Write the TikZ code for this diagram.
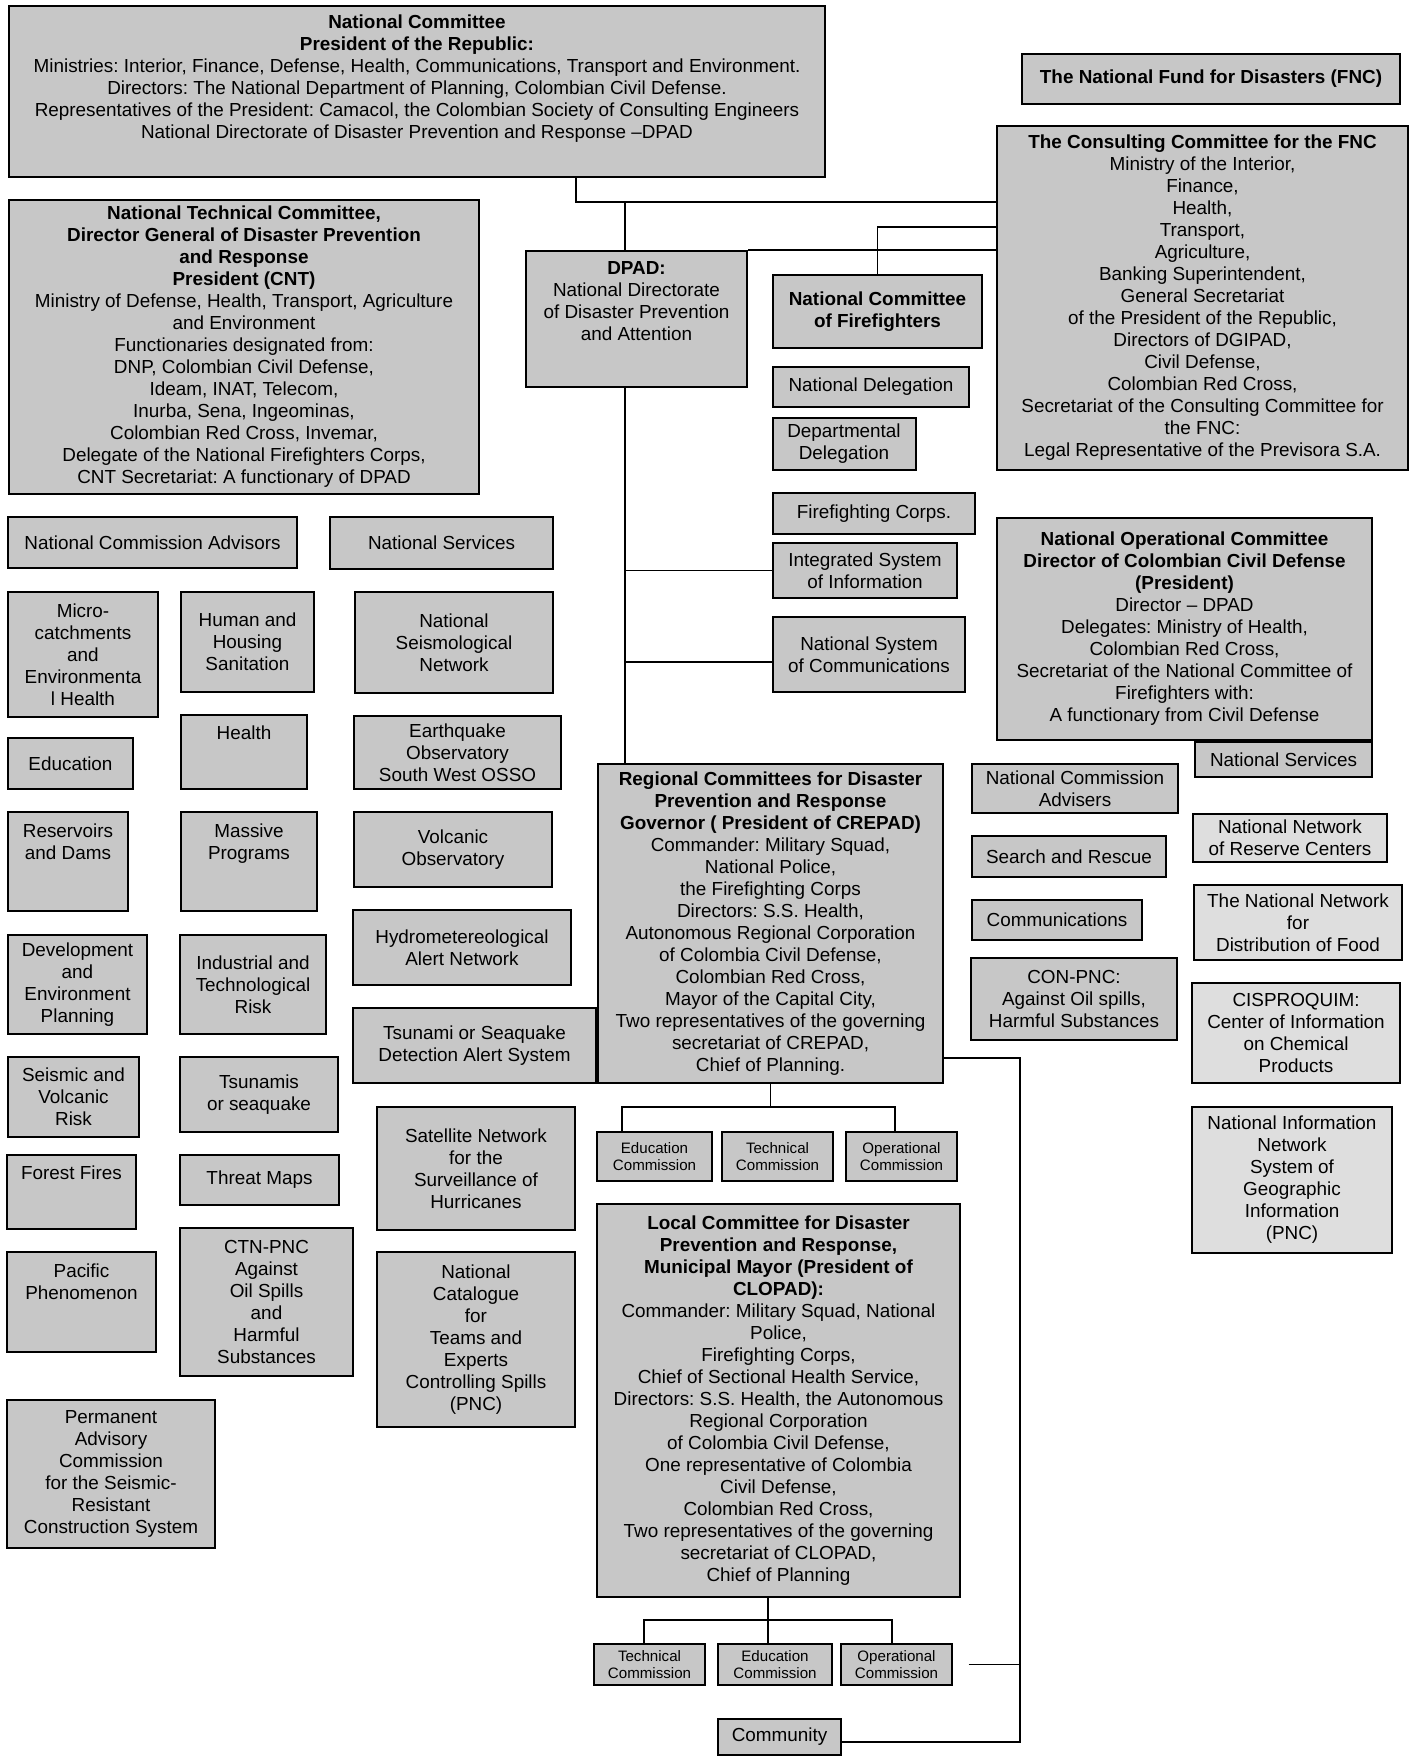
\documentclass[tikz,border=0pt]{standalone}
\usepackage{fontspec}
\setmainfont{Liberation Sans}
\frenchspacing

\newdimen\unitpx
\unitpx=0.45pt

\begin{document}
\begin{tikzpicture}[x=0.45pt, y=-0.45pt, font=\fontsize{8.5}{9.9}\selectfont,
    box/.style={rectangle, draw=black, line width=0.9pt, fill=black!22, align=center, inner sep=1pt},
    pale/.style={box, fill=black!13},
    small/.style={font=\fontsize{6.8}{7.6}\selectfont},
    toptext/.style={align=center, inner sep=0pt, anchor=north},
    link/.style={line width=0.8pt}
]
\useasboundingbox (0,0) rectangle (1423,1756);

% National level (top)
\node[box, minimum width=816\unitpx, minimum height=171\unitpx] (natcom) at (417,91.5) {};
\node[toptext] (natcomtxt) at (417,14) {\textbf{National Committee}\\ \textbf{President of the Republic:}\\
    Ministries: Interior, Finance, Defense, Health, Communications, Transport and Environment.\\
    Directors: The National Department of Planning, Colombian Civil Defense.\\
    Representatives of the President: Camacol, the Colombian Society of Consulting Engineers\\
    National Directorate of Disaster Prevention and Response –DPAD};
\node[box, minimum width=378\unitpx, minimum height=50\unitpx] (fund) at (1211,79) {\textbf{The National Fund for Disasters (FNC)}};
\node[box, minimum width=411\unitpx, minimum height=344\unitpx] (consult) at (1202.5,298) {\textbf{The Consulting Committee for the FNC}\\
    Ministry of the Interior,\\ Finance,\\ Health,\\ Transport,\\ Agriculture,\\ Banking Superintendent,\\
    General Secretariat\\ of the President of the Republic,\\ Directors of DGIPAD,\\ Civil Defense,\\
    Colombian Red Cross,\\ Secretariat of the Consulting Committee for\\ the FNC:\\
    Legal Representative of the Previsora S.A.};
\node[box, minimum width=470\unitpx, minimum height=294\unitpx] (cnt) at (244,347) {\textbf{National Technical Committee,}\\
    \textbf{Director General of Disaster Prevention}\\ \textbf{and Response}\\ \textbf{President (CNT)}\\
    Ministry of Defense, Health, Transport, Agriculture\\ and Environment\\ Functionaries designated from:\\
    DNP, Colombian Civil Defense,\\ Ideam, INAT, Telecom,\\ Inurba, Sena, Ingeominas,\\
    Colombian Red Cross, Invemar,\\ Delegate of the National Firefighters Corps,\\
    CNT Secretariat: A functionary of DPAD};

% DPAD and its branches
\node[box, minimum width=221\unitpx, minimum height=136\unitpx] (dpad) at (636.5,319) {};
\node[toptext] (dpadtxt) at (636.5,261) {\textbf{DPAD:}\\ National Directorate\\ of Disaster Prevention\\ and Attention};
\node[box, minimum width=209\unitpx, minimum height=73\unitpx] (fire) at (877.5,311.5) {\textbf{National Committee}\\ \textbf{of Firefighters}};
\node[box, minimum width=196\unitpx, minimum height=40\unitpx] (natdel) at (871,387) {National Delegation};
\node[box, minimum width=143\unitpx, minimum height=52\unitpx] (depdel) at (844,444) {Departmental\\ Delegation};
\node[box, minimum width=202\unitpx, minimum height=41\unitpx] (corps) at (874,513.5) {Firefighting Corps.};
\node[box, minimum width=184\unitpx, minimum height=55\unitpx] (infosys) at (865,570.5) {Integrated System\\ of Information};
\node[box, minimum width=192\unitpx, minimum height=75\unitpx] (commsys) at (869,654.5) {National System\\ of Communications};

% Operational committee (right)
\node[box, minimum width=375\unitpx, minimum height=222\unitpx] (opcom) at (1184.5,629) {\textbf{National Operational Committee}\\
    \textbf{Director of Colombian Civil Defense}\\ \textbf{(President)}\\ Director – DPAD\\
    Delegates: Ministry of Health,\\ Colombian Red Cross,\\ Secretariat of the National Committee of\\
    Firefighters with:\\ A functionary from Civil Defense};
\node[box, minimum width=177\unitpx, minimum height=35\unitpx] (servR) at (1283.5,759.5) {National Services};
\node[box, minimum width=206\unitpx, minimum height=49\unitpx] (advR) at (1075,788.5) {National Commission\\ Advisers};
\node[box, minimum width=194\unitpx, minimum height=41\unitpx] (rescue) at (1069,856.5) {Search and Rescue};
\node[box, minimum width=170\unitpx, minimum height=40\unitpx] (comms) at (1057,920) {Communications};
\node[box, minimum width=206\unitpx, minimum height=82\unitpx] (conpnc) at (1074,999) {CON-PNC:\\ Against Oil spills,\\ Harmful Substances};
\node[pale, minimum width=194\unitpx, minimum height=48\unitpx] (reserve) at (1290,838) {National Network\\ of Reserve Centers};
\node[pale, minimum width=208\unitpx, minimum height=75\unitpx] (food) at (1298,922.5) {The National Network\\ for\\ Distribution of Food};
\node[pale, minimum width=208\unitpx, minimum height=100\unitpx] (cisproquim) at (1296,1033) {CISPROQUIM:\\ Center of Information\\ on Chemical\\ Products};
\node[pale, minimum width=200\unitpx, minimum height=146\unitpx] (geoinfo) at (1292,1180) {National Information\\ Network\\ System of\\ Geographic\\ Information\\ (PNC)};

% Technical committee branches (left)
\node[box, minimum width=289\unitpx, minimum height=51\unitpx] (advL) at (152.5,542.5) {National Commission Advisors};
\node[box, minimum width=223\unitpx, minimum height=52\unitpx] (servL) at (441.5,543) {National Services};
\node[box, minimum width=150\unitpx, minimum height=125\unitpx] (micro) at (83,654.5) {Micro-\\ catchments\\ and\\ Environmenta\\ l Health};
\node[box, minimum width=133\unitpx, minimum height=100\unitpx] (housing) at (247.5,642) {Human and\\ Housing\\ Sanitation};
\node[box, minimum width=198\unitpx, minimum height=101\unitpx] (seisnet) at (454,642.5) {National\\ Seismological\\ Network};
\node[box, minimum width=125\unitpx, minimum height=51\unitpx] (educ) at (70.5,763.5) {Education};
\node[box, minimum width=126\unitpx, minimum height=74\unitpx] (health) at (244,752) {};
\node[toptext] (healthtxt) at (244,725) {Health};
\node[box, minimum width=207\unitpx, minimum height=73\unitpx] (osso) at (457.5,752.5) {Earthquake\\ Observatory\\ South West OSSO};
\node[box, minimum width=120\unitpx, minimum height=99\unitpx] (dams) at (68,861.5) {};
\node[toptext] (damstxt) at (68,823) {Reservoirs\\ and Dams};
\node[box, minimum width=136\unitpx, minimum height=99\unitpx] (massive) at (249,861.5) {};
\node[toptext] (massivetxt) at (249,823) {Massive\\ Programs};
\node[box, minimum width=198\unitpx, minimum height=75\unitpx] (volcobs) at (453,849.5) {Volcanic\\ Observatory};
\node[box, minimum width=218\unitpx, minimum height=75\unitpx] (hydro) at (462,947.5) {Hydrometereological\\ Alert Network};
\node[box, minimum width=139\unitpx, minimum height=99\unitpx] (devplan) at (77.5,984.5) {Development\\ and\\ Environment\\ Planning};
\node[box, minimum width=146\unitpx, minimum height=99\unitpx] (indrisk) at (253,984.5) {Industrial and\\ Technological\\ Risk};
\node[box, minimum width=243\unitpx, minimum height=75\unitpx] (tsualert) at (474.5,1045.5) {Tsunami or Seaquake\\ Detection Alert System};
\node[box, minimum width=131\unitpx, minimum height=80\unitpx] (seisrisk) at (73.5,1097) {Seismic and\\ Volcanic\\ Risk};
\node[box, minimum width=158\unitpx, minimum height=75\unitpx] (tsunamis) at (259,1094.5) {Tsunamis\\ or seaquake};
\node[box, minimum width=198\unitpx, minimum height=123\unitpx] (satnet) at (476,1168.5) {Satellite Network\\ for the\\ Surveillance of\\ Hurricanes};
\node[box, minimum width=129\unitpx, minimum height=74\unitpx] (forest) at (71.5,1192) {};
\node[toptext] (foresttxt) at (71.5,1165) {Forest Fires};
\node[box, minimum width=159\unitpx, minimum height=50\unitpx] (threat) at (259.5,1180) {Threat Maps};
\node[box, minimum width=149\unitpx, minimum height=100\unitpx] (pacific) at (81.5,1302) {};
\node[toptext] (pacifictxt) at (81.5,1263) {Pacific\\ Phenomenon};
\node[box, minimum width=173\unitpx, minimum height=148\unitpx] (ctnpnc) at (266.5,1302) {CTN-PNC\\ Against\\ Oil Spills\\ and\\ Harmful\\ Substances};
\node[box, minimum width=198\unitpx, minimum height=175\unitpx] (catalogue) at (476,1339.5) {National\\ Catalogue\\ for\\ Teams and\\ Experts\\ Controlling Spills\\ (PNC)};
\node[box, minimum width=208\unitpx, minimum height=148\unitpx] (seiscode) at (111,1474) {Permanent\\ Advisory\\ Commission\\ for the Seismic-\\ Resistant\\ Construction System};

% Regional and local level
\node[box, minimum width=345\unitpx, minimum height=319\unitpx] (reg) at (770.5,923.5) {\textbf{Regional Committees for Disaster}\\
    \textbf{Prevention and Response}\\ \textbf{Governor ( President of CREPAD)}\\
    Commander: Military Squad,\\ National Police,\\ the Firefighting Corps\\ Directors: S.S. Health,\\
    Autonomous Regional Corporation\\ of Colombia Civil Defense,\\ Colombian Red Cross,\\
    Mayor of the Capital City,\\ Two representatives of the governing\\ secretariat of CREPAD,\\
    Chief of Planning.};
\node[box, small, minimum width=115\unitpx, minimum height=49\unitpx] (regedu) at (654.5,1156.5) {Education\\ Commission};
\node[box, small, minimum width=111\unitpx, minimum height=49\unitpx] (regtec) at (777.5,1156.5) {Technical\\ Commission};
\node[box, small, minimum width=111\unitpx, minimum height=49\unitpx] (regop) at (901.5,1156.5) {Operational\\ Commission};
\node[box, minimum width=363\unitpx, minimum height=393\unitpx] (local) at (778.5,1400.5) {\textbf{Local Committee for Disaster}\\
    \textbf{Prevention and Response,}\\ \textbf{Municipal Mayor (President of}\\ \textbf{CLOPAD):}\\
    Commander: Military Squad, National\\ Police,\\ Firefighting Corps,\\
    Chief of Sectional Health Service,\\ Directors: S.S. Health, the Autonomous\\
    Regional Corporation\\ of Colombia Civil Defense,\\ One representative of Colombia\\
    Civil Defense,\\ Colombian Red Cross,\\ Two representatives of the governing\\
    secretariat of CLOPAD,\\ Chief of Planning};
\node[box, small, minimum width=111\unitpx, minimum height=41\unitpx] (loctec) at (649.5,1664.5) {Technical\\ Commission};
\node[box, small, minimum width=114\unitpx, minimum height=41\unitpx] (locedu) at (775,1664.5) {Education\\ Commission};
\node[box, small, minimum width=111\unitpx, minimum height=41\unitpx] (locop) at (896.5,1664.5) {Operational\\ Commission};
\node[box, minimum width=123\unitpx, minimum height=36\unitpx] (community) at (779.5,1737) {Community};

% Connectors
\coordinate (topjoin) at (576,202);
\coordinate (spine) at (625,202);
\coordinate (firejoin) at (877.5,227);
\coordinate (commsjoin) at (625,662);
\coordinate (regbarL) at (622,1107);
\coordinate (regbarR) at (895,1107);
\coordinate (locbarL) at (644,1620);
\coordinate (locmid) at (768,1620);
\coordinate (locbarR) at (892,1620);
\coordinate (loopTop) at (1020,1058);
\coordinate (loopBot) at (1020,1742);

\draw[link] (topjoin |- natcom.south) -- (topjoin) -- (topjoin -| consult.west);
\draw[link] (spine) -- (spine |- dpad.north);
\draw[link] (dpad.north east) -- (dpad.north east -| consult.west);
\draw[link] (fire.north) -- (firejoin) -- (firejoin -| consult.west);
\draw[link] (spine |- dpad.south) -- (spine |- reg.north);
\draw[link] (spine |- infosys.west) -- (infosys.west);
\draw[link] (commsjoin) -- (commsjoin -| commsys.west);

\draw[link] (reg.south) -- (reg.south |- regbarL);
\draw[link] (regbarL |- regedu.north) -- (regbarL) -- (regbarR) -- (regbarR |- regop.north);
\draw[link] (locmid |- local.south) -- (locmid |- locedu.north);
\draw[link] (locbarL |- loctec.north) -- (locbarL) -- (locbarR) -- (locbarR |- locop.north);

\draw[link] (reg.east |- loopTop) -- (loopTop) -- (loopBot) -- (loopBot -| community.east);
\draw[link] ([xshift=7pt]locop.east) -- (locop.east -| loopTop);
\end{tikzpicture}
\end{document}
